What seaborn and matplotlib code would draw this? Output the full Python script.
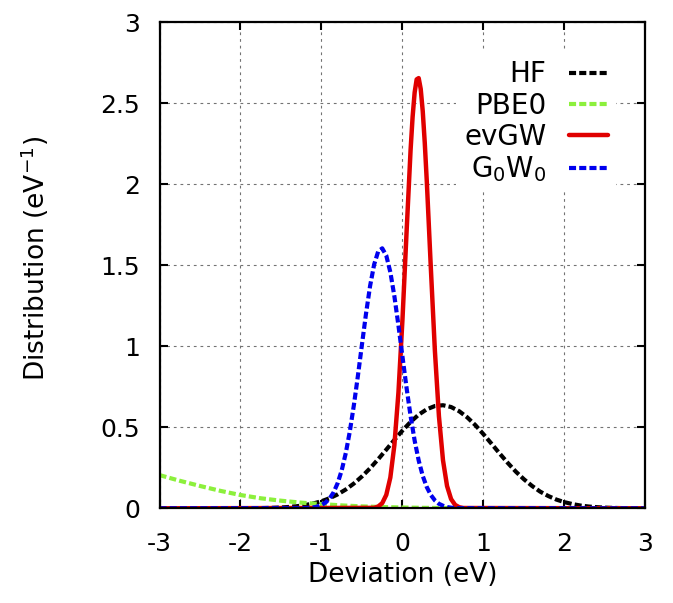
import matplotlib
matplotlib.use("Agg")
import matplotlib.pyplot as plt
import pandas as pd
import seaborn as sns

# ---------------- data ----------------
hf_x = [-3.0, -2.0, -1.9, -1.8, -1.7, -1.6, -1.5, -1.4, -1.3, -1.2, -1.1, -1.0,
        -0.9, -0.8, -0.7, -0.6, -0.5, -0.4, -0.3, -0.2, -0.1, 0.0, 0.1, 0.2,
        0.3, 0.4, 0.5, 0.6, 0.7, 0.8, 0.9, 1.0, 1.1, 1.2, 1.3, 1.4, 1.5, 1.6,
        1.7, 1.8, 1.9, 2.0, 2.1, 2.2, 2.3, 2.4, 2.5, 2.6, 2.7, 2.8, 2.9, 3.0]
hf_y = [0.0, 0.0004, 0.0006, 0.0011, 0.0019, 0.0032, 0.0053, 0.0085, 0.0133,
        0.0203, 0.0302, 0.0439, 0.0622, 0.0861, 0.1162, 0.1531, 0.197, 0.247,
        0.303, 0.362, 0.422, 0.480, 0.533, 0.578, 0.611, 0.631, 0.636, 0.625,
        0.599, 0.561, 0.513, 0.457, 0.398, 0.338, 0.280, 0.226, 0.179, 0.138,
        0.103, 0.076, 0.054, 0.038, 0.026, 0.017, 0.011, 0.0071, 0.0044,
        0.0026, 0.0016, 0.0009, 0.0005, 0.0003]

pbe0_x = [-3.0, -2.75, -2.5, -2.25, -2.0, -1.75, -1.5, -1.25, -1.0, -0.75,
          -0.5, -0.25, 0.0, 0.25, 0.5, 0.75, 1.0, 1.5, 2.0, 3.0]
pbe0_y = [0.205, 0.170, 0.138, 0.108, 0.082, 0.062, 0.047, 0.035, 0.026, 0.018,
          0.012, 0.008, 0.005, 0.003, 0.002, 0.001, 0.0005, 0.0002, 0.0, 0.0]

evgw_x = [-3.0, -0.35, -0.30, -0.25, -0.20, -0.15, -0.10, -0.05, 0.00, 0.05,
          0.10, 0.125, 0.15, 0.175, 0.20, 0.225, 0.25, 0.275, 0.30, 0.35, 0.40,
          0.45, 0.50, 0.55, 0.60, 0.65, 0.70, 0.75, 3.0]
evgw_y = [0.0, 0.003, 0.011, 0.032, 0.083, 0.190, 0.390, 0.714, 1.167, 1.700,
          2.211, 2.415, 2.565, 2.646, 2.654, 2.587, 2.450, 2.255, 2.018, 1.483,
          0.972, 0.568, 0.297, 0.138, 0.057, 0.021, 0.007, 0.002, 0.0]

g0w0_x = [-3.0, -1.20, -1.15, -1.10, -1.05, -1.00, -0.95, -0.90, -0.85, -0.80,
          -0.75, -0.70, -0.65, -0.60, -0.55, -0.50, -0.45, -0.40, -0.35, -0.30,
          -0.25, -0.20, -0.15, -0.10, -0.05, 0.00, 0.05, 0.10, 0.15, 0.20,
          0.25, 0.30, 0.35, 0.40, 0.45, 0.50, 0.55, 0.60, 0.65, 0.70, 3.0]
g0w0_y = [0.0, 0.0014, 0.0028, 0.0057, 0.0109, 0.0201, 0.0356, 0.0606, 0.0990,
          0.1557, 0.235, 0.341, 0.475, 0.637, 0.819, 1.012, 1.202, 1.372, 1.504,
          1.585, 1.604, 1.559, 1.457, 1.308, 1.128, 0.935, 0.744, 0.569, 0.418,
          0.295, 0.200, 0.131, 0.082, 0.049, 0.028, 0.016, 0.008, 0.004, 0.002,
          0.001, 0.0]

series_names = ["HF", "PBE0", "evGW", "G$_0$W$_0$"]

x_ticks = [-3, -2, -1, 0, 1, 2, 3]
x_tick_labels = ["-3", "-2", "-1", "0", "1", "2", "3"]
y_ticks = [0, 0.5, 1, 1.5, 2, 2.5, 3]
y_tick_labels = ["0", "0.5", "1", "1.5", "2", "2.5", "3"]

# ---------------- style ----------------
sns.set_style("ticks")
plt.rcParams["font.family"] = ["DejaVu Sans"]
plt.rcParams["mathtext.default"] = "regular"
plt.rcParams["axes.unicode_minus"] = False
plt.rcParams["text.color"] = "black"
plt.rcParams["axes.labelcolor"] = "black"

fig = plt.figure(figsize=(6.73, 6.03), dpi=100)
ax = fig.add_axes([0.2370, 0.1570, 0.7221, 0.8065])

styles = [
    dict(color="black", lw=3.0, linestyle=(0, (1.7, 0.75))),
    dict(color="#8cf03c", lw=3.0, linestyle=(0, (1.7, 0.75))),
    dict(color="#e00000", lw=3.2, linestyle="-"),
    dict(color="#0000ee", lw=3.0, linestyle=(0, (1.7, 0.75))),
]
xs = [hf_x, pbe0_x, evgw_x, g0w0_x]
ys = [hf_y, pbe0_y, evgw_y, g0w0_y]

for name, x, y, st in zip(series_names, xs, ys, styles):
    df = pd.DataFrame({"Deviation": x, "Distribution": y})
    sns.lineplot(data=df, x="Deviation", y="Distribution", ax=ax,
                 label=name, sort=False, estimator=None, errorbar=None, **st)

ax.set_xlim(-3, 3)
ax.set_ylim(0, 3)
ax.set_xticks(x_ticks)
ax.set_xticklabels(x_tick_labels)
ax.set_yticks(y_ticks)
ax.set_yticklabels(y_tick_labels)

ax.grid(True, color="0.45", lw=0.8, linestyle=(0, (2.5, 3.5)))
ax.set_axisbelow(True)

for sp in ax.spines.values():
    sp.set_visible(True)
    sp.set_linewidth(1.6)
    sp.set_color("black")

ax.tick_params(direction="in", length=6, width=1.5, top=True, right=True,
               labelsize=18, colors="black")
ax.tick_params(axis="x", pad=17)
ax.tick_params(axis="y", pad=14)

ax.set_xlabel("Deviation (eV)", fontsize=19)
ax.set_ylabel("Distribution (eV$^{-1}$)", fontsize=19)
ax.xaxis.set_label_coords(0.5, -0.111)
ax.yaxis.set_label_coords(-0.223, 0.513)

leg = ax.legend(loc="upper right", bbox_to_anchor=(0.9393, 0.9383),
                borderaxespad=0, frameon=True, fancybox=False,
                edgecolor="none", facecolor="white", framealpha=1,
                markerfirst=False, handlelength=1.4, handletextpad=0.8,
                labelspacing=0.12, borderpad=0.3, fontsize=20)

fig.savefig("out.png", dpi=100)
